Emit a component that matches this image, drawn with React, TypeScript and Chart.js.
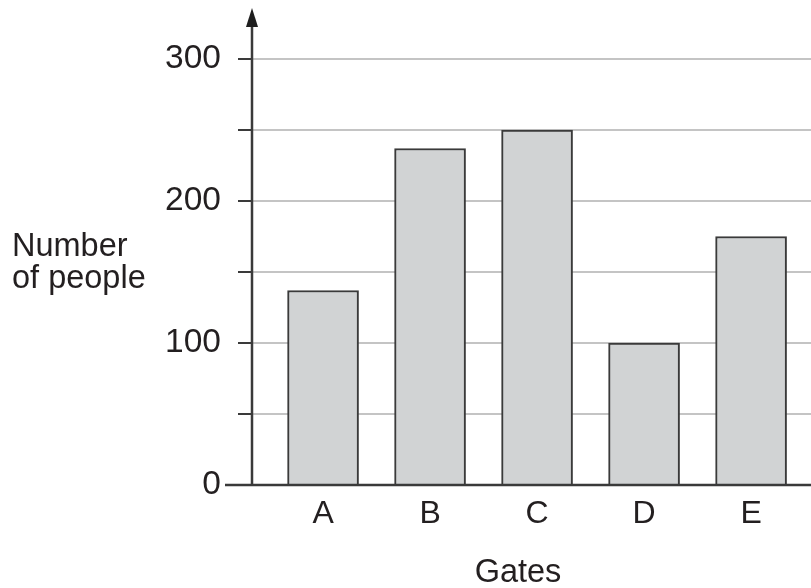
import React, { useEffect, useRef } from "react";
import { Chart, registerables } from "chart.js";

Chart.register(...registerables);

const GATES = ["A", "B", "C", "D", "E"];
const PEOPLE = [137, 237, 250, 100, 175];
const Y_TICK_LABELS = [0, 100, 200, 300];
const Y_TITLE = ["Number", "of people"];
const X_TITLE = "Gates";

const FONT = "'Liberation Sans', Arial, sans-serif";
const TEXT = "#231f20";
const AXIS = "#3a3a3a";

const axesPlugin = {
  id: "axesPlugin",
  afterDatasetsDraw(chart: any) {
    const { ctx, chartArea } = chart;
    const yScale = chart.scales.y;
    const x0 = chartArea.left;
    const yZero = yScale.getPixelForValue(0);
    ctx.save();
    ctx.strokeStyle = AXIS;
    ctx.lineWidth = 2.5;
    // x axis line
    ctx.beginPath();
    ctx.moveTo(x0 - 27, yZero);
    ctx.lineTo(chart.width, yZero);
    ctx.stroke();
    // y axis line
    ctx.beginPath();
    ctx.moveTo(x0, yZero);
    ctx.lineTo(x0, 24);
    ctx.stroke();
    // arrow head
    ctx.fillStyle = "#1e1e1e";
    ctx.beginPath();
    ctx.moveTo(x0, 8);
    ctx.lineTo(x0 - 6, 27);
    ctx.lineTo(x0 + 6, 27);
    ctx.closePath();
    ctx.fill();
    // titles
    ctx.fillStyle = TEXT;
    ctx.font = `32.5px ${FONT}`;
    ctx.textAlign = "left";
    ctx.textBaseline = "alphabetic";
    ctx.fillText(Y_TITLE[0], 12, 256);
    ctx.fillText(Y_TITLE[1], 12, 288);
    ctx.textAlign = "center";
    ctx.fillText(X_TITLE, 518, 582);
    ctx.restore();
  },
};

export default function App() {
  const ref = useRef<HTMLCanvasElement>(null);
  useEffect(() => {
    if (!ref.current) return;
    const chart = new Chart(ref.current, {
      type: "bar",
      data: {
        datasets: [
          {
            data: PEOPLE.map((v, i) => ({ x: i, y: v })),
            backgroundColor: "#d1d3d4",
            borderColor: AXIS,
            borderWidth: 2,
            barThickness: 71,
          },
        ],
      },
      options: {
        animation: false,
        responsive: false,
        layout: { padding: { left: 0, right: 0, top: 59, bottom: 0 } },
        plugins: { legend: { display: false }, tooltip: { enabled: false } },
        scales: {
          x: {
            type: "linear",
            offset: false,
            min: -0.664,
            max: 4.56,
            grid: { display: false, drawTicks: false, offset: false },
            border: { display: false },
            afterBuildTicks: (scale: any) => {
              scale.ticks = GATES.map((_, i) => ({ value: i }));
            },
            afterFit: (scale: any) => {
              scale.height = 103;
            },
            ticks: {
              autoSkip: false,
              maxRotation: 0,
              padding: 10,
              color: TEXT,
              font: { family: FONT, size: 32 },
              callback: (v: any) => GATES[v as number] ?? "",
            },
          },
          y: {
            min: 0,
            max: 300,
            afterFit: (scale: any) => {
              scale.width = 252;
            },
            afterBuildTicks: (scale: any) => {
              const t = [];
              for (let v = 0; v <= 300; v += 50) t.push({ value: v });
              scale.ticks = t;
            },
            grid: {
              color: "#c4c4c4",
              lineWidth: 2,
              tickColor: "#3a3a3a",
              tickLength: 14,
            },
            border: { display: false },
            ticks: {
              padding: 17,
              color: TEXT,
              font: { family: FONT, size: 33.5 },
              callback: (v: any) => (Y_TICK_LABELS.includes(v) ? String(v) : ""),
            },
          },
        },
      },
      plugins: [axesPlugin],
    });
    return () => chart.destroy();
  }, []);
  return (
    <canvas
      ref={ref}
      width={811}
      height={588}
      style={{ position: "fixed", left: 0, top: 0, width: 811, height: 588 }}
    />
  );
}
